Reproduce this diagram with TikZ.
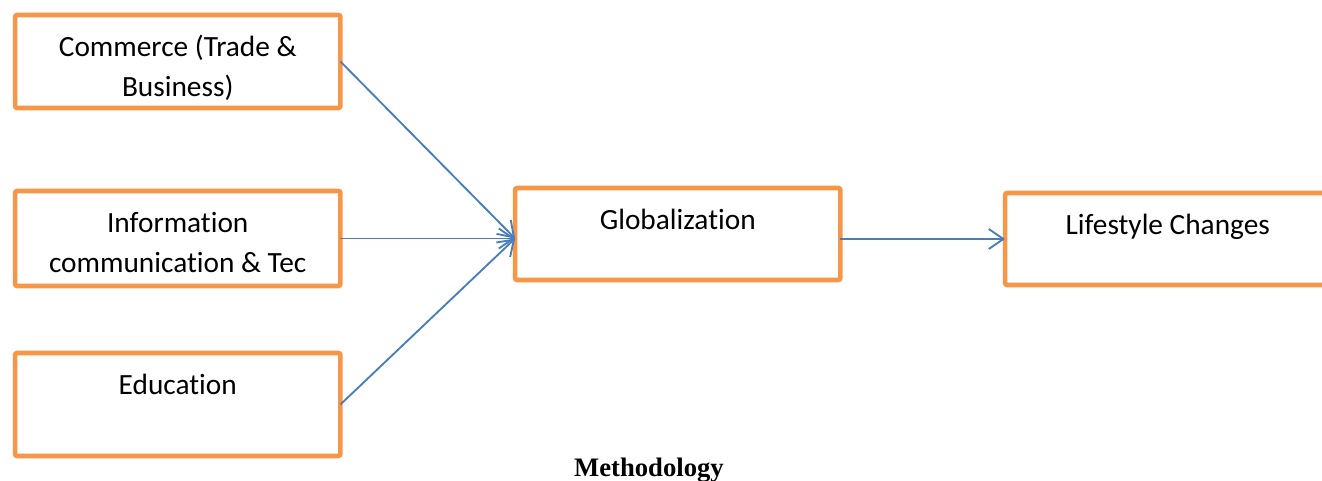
\documentclass[tikz,border=0pt]{standalone}
\usepackage{fontspec}
\setmainfont{Carlito}[Ligatures=NoCommon]
\newfontfamily\captionfont{Liberation Serif}
\usepackage{xcolor}
\usepackage{tikz}
\usetikzlibrary{arrows.meta}
\definecolor{boxorange}{HTML}{F79646}
\definecolor{arrowblue}{HTML}{4A7EBB}
\newcommand{\factortext}[2]{\parbox[t][#1][t]{244pt}{\centering\rule{0pt}{31pt}#2}}
\tikzstyle{factor} = [rectangle, draw=boxorange, line width=3.4pt, rounded corners=1.5pt,
    inner sep=0pt, outer sep=0pt, font=\fontsize{22}{30}\selectfont]
\tikzstyle{arrow} = [draw=arrowblue, line width=1.4pt, -{Straight Barb[length=11pt,width=15pt]}]
\tikzstyle{caption} = [font=\captionfont\bfseries\fontsize{20}{22}\selectfont, anchor=base]

\begin{document}
\begin{tikzpicture}[x=0.75pt, y=-0.75pt]
      \useasboundingbox (0,0) rectangle (1322,481);
      % Place nodes
      \node [factor] (commerce) at (177.75,61.5) {\factortext{69.75pt}{Commerce (Trade \&\\Business)}};
      \node [factor, below of=commerce, node distance=132.75pt] (info) {\factortext{71.25pt}{Information\\communication \& Tec}};
      \node [factor, below of=info, node distance=124.5pt] (edu) {\factortext{77.25pt}{Education}};

      \node [factor, right of=info, node distance=375pt, yshift=3.375pt] (glob) {\factortext{69pt}{Globalization}};
      \node [factor, right of=glob, node distance=367.5pt, yshift=-3.75pt] (life) {\factortext{69pt}{Lifestyle Changes}};

      \node [caption] (methodology) at (649,476) {Methodology};

      \coordinate (globIn) at (glob.west |- info.east);
      \path [arrow] (commerce.east) -- (globIn);
      \path [arrow] (info.east) -- (globIn);
      \path [arrow] (edu.east) -- (globIn);
      \path [arrow] (glob.east |- life.west) -- (life.west);

  \end{tikzpicture}
\end{document}
